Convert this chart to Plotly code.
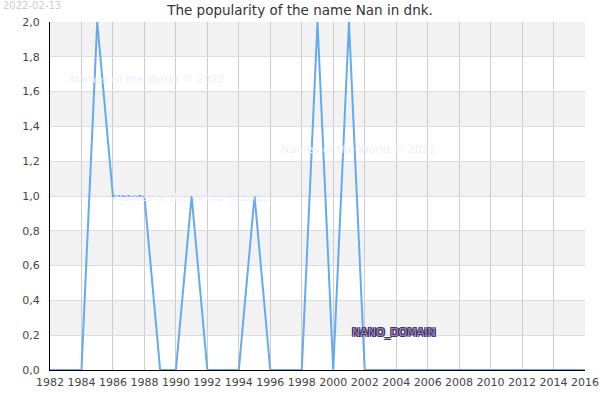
import plotly.graph_objects as go

years = list(range(1982, 2017))
values = [0, 0, 0, 2, 1, 1, 1, 0, 0, 1, 0, 0, 0, 1, 0, 0, 0, 2, 0, 2, 0,
          0, 0, 0, 0, 0, 0, 0, 0, 0, 0, 0, 0, 0, 0]
title = "The popularity of the name Nan in dnk."
date_label = "2022-02-13"
watermark = "Names of the World © 2022"
y_ticks = [0.0, 0.2, 0.4, 0.6, 0.8, 1.0, 1.2, 1.4, 1.6, 1.8, 2.0]
x_ticks = list(range(1982, 2017, 2))

FONT = "DejaVu Sans"

fig = go.Figure()
fig.add_trace(go.Scatter(x=years, y=values, mode="lines",
                         line=dict(color="#66aaee", width=2), hoverinfo="skip"))

shapes = []
for i in range(len(y_ticks) - 1):
    if i % 2 == 1:
        shapes.append(dict(type="rect", xref="paper", yref="y", x0=0, x1=1,
                           y0=y_ticks[i], y1=y_ticks[i + 1],
                           fillcolor="#f2f2f2", line=dict(width=0), layer="below"))

annotations = [
    dict(text=date_label, xref="paper", yref="paper", x=-0.091, y=1.048,
         xanchor="left", yanchor="middle", showarrow=False,
         font=dict(family=FONT, size=10, color="#cccccc")),
    dict(text=watermark, x=1988.2, y=1.667, showarrow=False, xanchor="center",
         font=dict(family=FONT, size=11, color="#eeeeff")),
    dict(text=watermark, x=2001.6, y=1.27, showarrow=False, xanchor="center",
         font=dict(family=FONT, size=11, color="#eeeeff")),
    dict(text=watermark, x=1991.0, y=0.99, showarrow=False, xanchor="center",
         font=dict(family=FONT, size=11, color="#eeeeff")),
    dict(text="NANO_DOMAIN", x=2003.85, y=0.218, showarrow=False, xanchor="center",
         font=dict(family=FONT, size=11, color="#9a88c8",
                   shadow="-1px -1px 0 #3a2858, 1px -1px 0 #3a2858, -1px 1px 0 #3a2858, 1px 1px 0 #3a2858")),
]

fig.update_layout(
    template="none",
    width=600, height=400,
    margin=dict(l=50, r=15, t=22, b=30, pad=0),
    paper_bgcolor="white", plot_bgcolor="white",
    separators=", ",
    showlegend=False,
    title=dict(text=title, x=0.5, xanchor="center", y=0.975, yanchor="middle",
               font=dict(family=FONT, size=13.5, color="#333333")),
    font=dict(family=FONT, size=11, color="#444444"),
    shapes=shapes,
    annotations=annotations,
    xaxis=dict(range=[1982, 2016], tickvals=x_ticks, showgrid=True, automargin=False,
               gridcolor="#cccccc", gridwidth=1, zeroline=False,
               showline=True, linecolor="black", linewidth=1, ticks="",
               ticklabelstandoff=2,
               tickfont=dict(family=FONT, size=11, color="#444444")),
    yaxis=dict(range=[0, 2], tickvals=y_ticks, tickformat=".1f", showgrid=True, automargin=False,
               gridcolor="#dddddd", gridwidth=1, zeroline=False,
               showline=True, linecolor="black", linewidth=1, ticks="",
               ticklabelstandoff=7,
               tickfont=dict(family=FONT, size=11, color="#444444")),
)

fig.write_html("out.html")
